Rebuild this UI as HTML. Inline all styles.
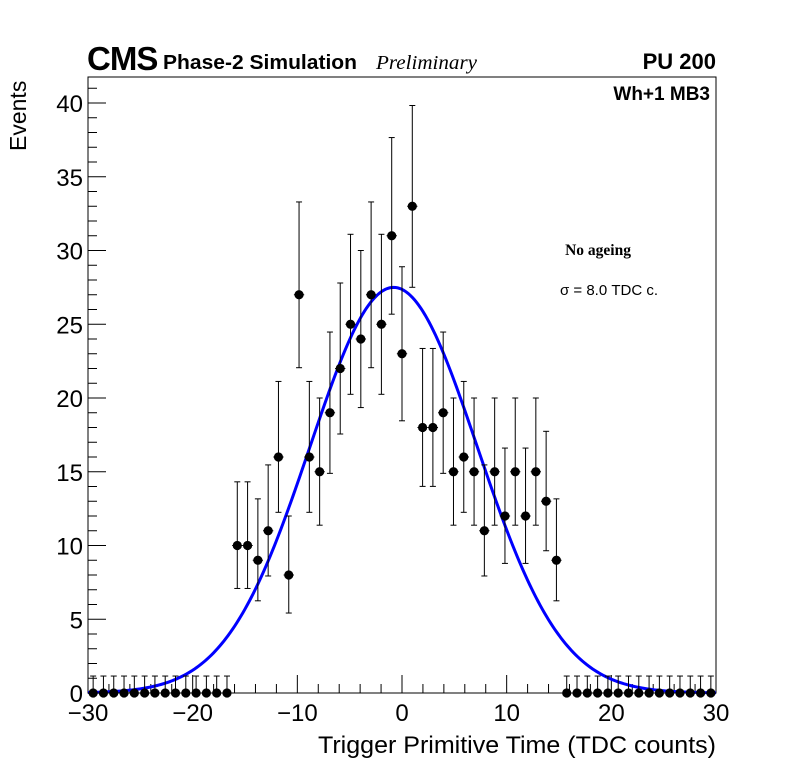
<!DOCTYPE html>
<html><head><meta charset="utf-8"><style>
html,body{margin:0;padding:0;background:#fff;}
svg{display:block;font-family:"Liberation Sans",sans-serif;}
</style></head><body>
<svg id="chart" width="796" height="772" xmlns="http://www.w3.org/2000/svg">
<rect x="0" y="0" width="796" height="772" fill="#fff"/>
<g id="axes"></g>
<g id="fit"></g>
<g id="points"></g>
<text x="87" y="70" font-size="33" font-weight="bold" letter-spacing="-1">CMS</text>
<text x="163" y="69" font-size="20" font-weight="bold" textLength="194" lengthAdjust="spacingAndGlyphs">Phase-2 Simulation</text>
<text x="376" y="69" font-size="20" font-style="italic" font-family="Liberation Serif, serif" textLength="101" lengthAdjust="spacingAndGlyphs">Preliminary</text>
<text x="716" y="69" font-size="22" font-weight="bold" text-anchor="end">PU 200</text>
<text x="710" y="100" font-size="19" font-weight="bold" text-anchor="end">Wh+1 MB3</text>
<text x="598" y="255" font-size="15.5" font-weight="bold" text-anchor="middle" font-family="Liberation Serif, serif">No ageing</text>
<text x="609" y="295" font-size="15" text-anchor="middle">σ = 8.0 TDC c.</text>
<text transform="translate(26,151) rotate(-90)" font-size="23">Events</text>
<text x="716" y="753" font-size="24" text-anchor="end" textLength="398" lengthAdjust="spacingAndGlyphs">Trigger Primitive Time (TDC counts)</text>
</svg>
<script>
const binIndex = [-30,-29,-28,-27,-26,-25,-24,-23,-22,-21,-20,-19,-18,-17,-16,-15,-14,-13,-12,-11,-10,-9,-8,-7,-6,-5,-4,-3,-2,-1,0,1,2,3,4,5,6,7,8,9,10,11,12,13,14,15,16,17,18,19,20,21,22,23,24,25,26,27,28,29,30];
const counts = [0,0,0,0,0,0,0,0,0,0,0,0,0,0,10,10,9,11,16,8,27,16,15,19,22,25,24,27,25,31,23,33,18,18,19,15,16,15,11,15,12,15,12,15,13,9,0,0,0,0,0,0,0,0,0,0,0,0,0,0,0];
const xTicks = [-30,-20,-10,0,10,20,30];
const yTicks = [0,5,10,15,20,25,30,35,40];
const fitAmp = 27.5, fitMean = -0.8, fitSigma = 8.0;

const X0=88, X1=716, Y0=693, YT=77, XMIN=-30, XMAX=30, YMIN=0, YPX=14.75, NBINS=61;
const NS="http://www.w3.org/2000/svg";
function xs(v){return X0+(v-XMIN)*(X1-X0)/(XMAX-XMIN);}
function xb(k){return X0+(k+30.5)*(X1-X0)/NBINS;}
function ys(v){return Y0-(v-YMIN)*YPX;}
function mk(tag,attrs,parent){const e=document.createElementNS(NS,tag);for(const k in attrs)e.setAttribute(k,attrs[k]);parent.appendChild(e);return e;}

const axes=document.getElementById('axes');
const frame=mk('rect',{x:X0,y:YT,width:X1-X0,height:Y0-YT,fill:'none',stroke:'#000','stroke-width':1},axes);


for(let v=XMIN;v<=XMAX;v+=2){
  const big = v%10===0;
  const t=mk('line',{x1:xs(v),x2:xs(v),y1:Y0,y2:Y0-(big?18:9),stroke:'#000','stroke-width':1},axes);
  
  
}
xTicks.forEach(v=>{
  const t=mk('text',{x:xs(v),y:Y0+28,'font-size':24,'text-anchor':'middle'},axes);
  t.textContent=(v<0?'\u2212':'')+Math.abs(v);
  
  
});
for(let v=0;v<=41;v+=1){
  const big=v%5===0;
  const t=mk('line',{x1:X0,x2:X0+(big?18:9),y1:ys(v),y2:ys(v),stroke:'#000','stroke-width':1},axes);
  
  
}
yTicks.forEach(v=>{
  const t=mk('text',{x:X0-5,y:ys(v)+9,'font-size':24,'text-anchor':'end'},axes);
  t.textContent=v;
  
  
});

const fitG=document.getElementById('fit');
let d='';
for(let i=0;i<=300;i++){
  const v=XMIN+(XMAX-XMIN)*i/300;
  const f=fitAmp*Math.exp(-0.5*Math.pow((v-fitMean)/fitSigma,2));
  d+=(i?'L':'M')+xs(v).toFixed(2)+','+ys(f).toFixed(2);
}
const fp=mk('path',{d:d,fill:'none',stroke:'#0000ff','stroke-width':3},fitG);



const pg=document.getElementById('points');
const bw=(X1-X0)/NBINS;
binIndex.forEach((k,i)=>{
  const n=counts[i];
  const up=n+Math.sqrt(n+1)+1;
  const lo=Math.max(0,n-Math.sqrt(n)+0.25);
  const upv = n===0?1.15:up;
  const g=mk('g',{},pg);
  
  
  const px=xb(k), py=ys(n);
  mk('line',{x1:px,x2:px,y1:ys(upv),y2:ys(lo),stroke:'#000','stroke-width':1},g);
  mk('line',{x1:px-3,x2:px+3,y1:ys(upv),y2:ys(upv),stroke:'#000','stroke-width':1},g);
  if(n>0) mk('line',{x1:px-3,x2:px+3,y1:ys(lo),y2:ys(lo),stroke:'#000','stroke-width':1},g);
  mk('line',{x1:px-bw/2,x2:px+bw/2,y1:py,y2:py,stroke:'#000','stroke-width':1},g);
  mk('circle',{cx:px,cy:py,r:4.6,fill:'#000'},g);
});
</script>
</body></html>
